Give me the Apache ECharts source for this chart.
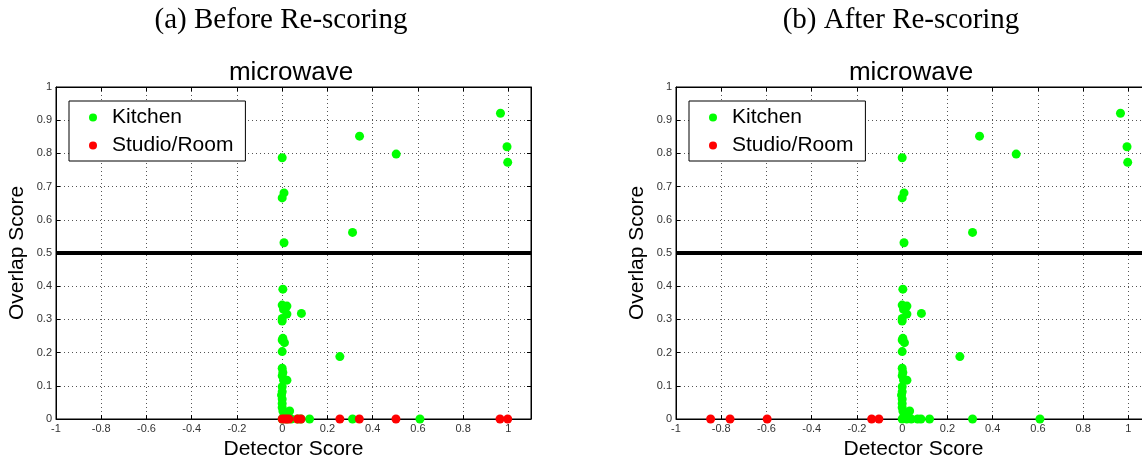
<!DOCTYPE html>
<html>
<head>
<meta charset="utf-8">
<script src="https://cdn.jsdelivr.net/npm/echarts@6/dist/echarts.min.js"></script>
<style>html,body{margin:0;padding:0;background:#fff;}#c{width:1142px;height:456px;}</style>
</head>
<body>
<div id="c"></div>
<script>
// ---- data ----
var panelTitles = ['(a) Before Re-scoring', '(b) After Re-scoring'];
var plotTitle = 'microwave';
var seriesNames = ['Kitchen', 'Studio/Room'];
var xTicks = { min: -1, max: 1.1, step: 0.2 };
var yTicks = { min: 0, max: 1, step: 0.1 };
var threshold = 0.5;

// Kitchen detections [detector score, overlap score] (same in both panels)
var kitchenPoints = [
  [0.965,0.921],[0.994,0.820],[0.997,0.773],[0.342,0.852],[0.504,0.798],
  [0.000,0.787],[0.008,0.681],[0.000,0.666],[0.311,0.562],[0.008,0.531],
  [0.003,0.391],[0.000,0.343],[0.021,0.340],[0.006,0.330],[0.021,0.316],
  [0.000,0.303],[0.000,0.295],[0.085,0.318],
  [0.003,0.243],[0.000,0.238],[0.010,0.230],[0.000,0.203],
  [0.255,0.188],
  [0.000,0.153],[0.003,0.140],[0.000,0.130],[0.021,0.117],[0.006,0.117],
  [0.000,0.097],[0.000,0.082],[-0.003,0.072],[0.000,0.060],[0.000,0.047],
  [0.000,0.035],[0.003,0.024],[0.033,0.024],[0.008,0.010],
  [0.000,0],[0.020,0],[0.040,0],[0.068,0],[0.083,0],[0.121,0],[0.311,0],[0.609,0]
];
// Studio/Room detections before re-scoring
var studioBefore = [
  [0.000,0],[0.010,0],[0.020,0],[0.030,0],[0.068,0],[0.083,0],
  [0.255,0],[0.341,0],[0.503,0],[0.963,0],[0.997,0]
];
// Studio/Room detections after re-scoring
var studioAfter = [
  [-0.847,0],[-0.761,0],[-0.597,0],[-0.135,0],[-0.103,0]
];

// ---- chart ----
var chart = echarts.init(document.getElementById('c'), null, {renderer: 'canvas'});
var sans = 'Liberation Sans, Arial, Helvetica, sans-serif';
var serif = 'Liberation Serif, Times New Roman, serif';
var panelLeft = [56, 676];
var plotW = 475, plotTop = 87, plotH = 332;

function xAxis(i) {
  return {
    gridIndex: i, type: 'value', min: xTicks.min, max: xTicks.max, interval: xTicks.step,
    name: 'Detector Score', nameLocation: 'middle', nameGap: 13,
    nameTextStyle: {fontFamily: sans, fontSize: 21, color: '#000'},
    axisLine: {show: true, onZero: false, lineStyle: {color: '#000', width: 1}},
    axisTick: {show: true, inside: true, length: 4, lineStyle: {color: '#000'}},
    axisLabel: {fontFamily: sans, fontSize: 11, color: '#333', margin: 4, showMaxLabel: false},
    splitLine: {show: true, lineStyle: {color: '#555', type: [1, 3], width: 1}}
  };
}
function xAxisTop(i) {
  return {
    gridIndex: i, type: 'value', position: 'top', min: xTicks.min, max: xTicks.max, interval: xTicks.step,
    axisLine: {show: true, onZero: false, lineStyle: {color: '#000', width: 1}},
    axisTick: {show: true, inside: true, length: 4, lineStyle: {color: '#000'}},
    axisLabel: {show: false}, splitLine: {show: false}
  };
}
function yAxis(i) {
  return {
    gridIndex: i, type: 'value', min: yTicks.min, max: yTicks.max, interval: yTicks.step,
    name: 'Overlap Score', nameLocation: 'middle', nameGap: 28,
    nameTextStyle: {fontFamily: sans, fontSize: 21, color: '#000'},
    axisLine: {show: true, onZero: false, lineStyle: {color: '#000', width: 1}},
    axisTick: {show: true, inside: true, length: 4, lineStyle: {color: '#000'}},
    axisLabel: {fontFamily: sans, fontSize: 11, color: '#333', margin: 4},
    splitLine: {show: true, lineStyle: {color: '#555', type: [1, 3], width: 1}}
  };
}
function yAxisRight(i) {
  return {
    gridIndex: i, type: 'value', position: 'right', min: yTicks.min, max: yTicks.max, interval: yTicks.step,
    axisLine: {show: true, onZero: false, lineStyle: {color: '#000', width: 1}},
    axisTick: {show: true, inside: true, length: 4, lineStyle: {color: '#000'}},
    axisLabel: {show: false}, splitLine: {show: false}
  };
}
function legend(i) {
  return {
    left: panelLeft[i] + 13, top: 101, orient: 'vertical',
    data: seriesNames.map(function (n) { return {name: n, icon: 'circle'}; }),
    itemWidth: 8, itemHeight: 8, itemGap: 7,
    padding: [6, 12, 5, 20],
    backgroundColor: '#fff', borderColor: '#000', borderWidth: 1,
    textStyle: {fontFamily: sans, fontSize: 21, color: '#000', padding: [0, 0, 0, 10]},
    selectedMode: false
  };
}
function kitchenSeries(i) {
  return {
    name: seriesNames[0], type: 'scatter', xAxisIndex: 2 * i, yAxisIndex: 2 * i,
    data: kitchenPoints, symbol: 'circle', symbolSize: 9, clip: false,
    itemStyle: {color: '#00ff00', opacity: 1}, z: 3,
    markLine: {
      silent: true, symbol: 'none', animation: false,
      label: {show: false},
      lineStyle: {color: '#000', width: 4, type: 'solid'},
      data: [{yAxis: threshold}]
    }
  };
}
function studioSeries(i, pts) {
  return {
    name: seriesNames[1], type: 'scatter', xAxisIndex: 2 * i, yAxisIndex: 2 * i,
    data: pts, symbol: 'circle', symbolSize: 9, clip: false,
    itemStyle: {color: '#ff0000', opacity: 1}, z: 4
  };
}
function gridOpt(i) {
  return {left: panelLeft[i], top: plotTop, width: plotW, height: plotH,
          containLabel: false, outerBoundsMode: 'none',
          show: true, borderColor: '#000', borderWidth: 1, backgroundColor: '#fff'};
}

var option = {
  animation: false,
  backgroundColor: '#fff',
  title: [
    {text: panelTitles[0], left: 281, top: 6, textAlign: 'center', padding: 0,
     textStyle: {fontFamily: serif, fontSize: 29, fontWeight: 'normal', color: '#000'}},
    {text: panelTitles[1], left: 901, top: 6, textAlign: 'center', padding: 0,
     textStyle: {fontFamily: serif, fontSize: 29, fontWeight: 'normal', color: '#000'}},
    {text: plotTitle, left: 291, top: 60, textAlign: 'center', padding: 0,
     textStyle: {fontFamily: sans, fontSize: 26, fontWeight: 'normal', color: '#000'}},
    {text: plotTitle, left: 911, top: 60, textAlign: 'center', padding: 0,
     textStyle: {fontFamily: sans, fontSize: 26, fontWeight: 'normal', color: '#000'}}
  ],
  legend: [legend(0), legend(1)],
  grid: [gridOpt(0), gridOpt(1)],
  xAxis: [xAxis(0), xAxisTop(0), xAxis(1), xAxisTop(1)],
  yAxis: [yAxis(0), yAxisRight(0), yAxis(1), yAxisRight(1)],
  series: [
    kitchenSeries(0), studioSeries(0, studioBefore),
    kitchenSeries(1), studioSeries(1, studioAfter)
  ]
};
chart.setOption(option);
</script>
</body>
</html>
